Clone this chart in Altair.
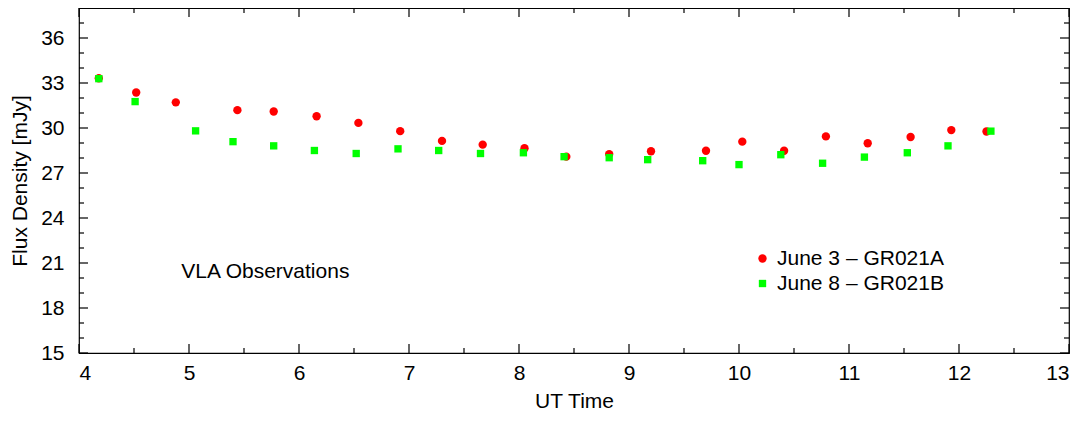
import altair as alt
import pandas as pd

# ---- data ----
series_names = ["June 3 – GR021A", "June 8 – GR021B"]

ut_a = [4.18, 4.52, 4.88, 5.44, 5.77, 6.16, 6.54, 6.92, 7.30, 7.67, 8.05,
        8.43, 8.82, 9.20, 9.70, 10.03, 10.41, 10.79, 11.17, 11.56, 11.93, 12.25]
flux_a = [33.32, 32.37, 31.71, 31.19, 31.10, 30.78, 30.34, 29.79, 29.14, 28.89, 28.65,
          28.09, 28.26, 28.45, 28.48, 29.09, 28.48, 29.44, 28.98, 29.40, 29.86, 29.77]

ut_b = [4.18, 4.51, 5.06, 5.40, 5.77, 6.14, 6.52, 6.90, 7.27, 7.65, 8.04,
        8.41, 8.82, 9.17, 9.67, 10.00, 10.38, 10.76, 11.14, 11.53, 11.90, 12.29]
flux_b = [33.29, 31.76, 29.81, 29.09, 28.81, 28.50, 28.30, 28.61, 28.50, 28.30, 28.35,
          28.09, 28.02, 27.89, 27.82, 27.56, 28.22, 27.65, 28.06, 28.35, 28.81, 29.79]

x_major = [4, 5, 6, 7, 8, 9, 10, 11, 12, 13]
x_minor = [4.5, 5.5, 6.5, 7.5, 8.5, 9.5, 10.5, 11.5, 12.5]
y_major = [15, 18, 21, 24, 27, 30, 33, 36]
y_minor = [16, 17, 19, 20, 22, 23, 25, 26, 28, 29, 31, 32, 34, 35, 37]

note_text = ["VLA Observations"]
note_x = [4.93]
note_y = [20.4]

# ---- tables ----
points = pd.DataFrame({
    "ut": ut_a + ut_b,
    "flux": flux_a + flux_b,
    "series": [series_names[0]] * len(ut_a) + [series_names[1]] * len(ut_b),
})

FONT = "Liberation Sans"
W, H = 990, 345
xs = alt.Scale(domain=[4, 13], nice=False, zero=False)
ys = alt.Scale(domain=[15, 38], nice=False, zero=False)
x_axis = alt.Axis(values=x_major, format="d", labelPadding=9, titlePadding=7)
y_axis = alt.Axis(values=y_major, format="d", labelPadding=15, titlePadding=10)
X_TITLE = "UT Time"
Y_TITLE = "Flux Density [mJy]"

legend = alt.Legend(
    title=None, orient="none", legendX=673, legendY=240,
    labelFont=FONT, labelFontSize=21, labelColor="#000", labelLimit=400,
    symbolSize=32, labelOffset=4, rowPadding=3, padding=0,
    symbolStrokeWidth=0,
)

pts = alt.Chart(points).mark_point(filled=True, opacity=1).encode(
    x=alt.X("ut:Q", scale=xs, title=X_TITLE, axis=x_axis),
    y=alt.Y("flux:Q", scale=ys, title=Y_TITLE, axis=y_axis),
    color=alt.Color("series:N",
                    scale=alt.Scale(domain=series_names, range=["#ff0000", "#00ff00"]),
                    legend=legend),
    shape=alt.Shape("series:N",
                    scale=alt.Scale(domain=series_names, range=["circle", "square"]),
                    legend=legend),
    size=alt.Size("series:N",
                  scale=alt.Scale(domain=series_names, range=[70, 54]),
                  legend=None),
)

note = alt.Chart(pd.DataFrame({"x": note_x, "y": note_y, "t": note_text})).mark_text(
    align="left", baseline="middle", font=FONT, fontSize=21, color="#000"
).encode(
    x=alt.X("x:Q", scale=xs, title=X_TITLE, axis=x_axis),
    y=alt.Y("y:Q", scale=ys, title=Y_TITLE, axis=y_axis),
    text="t:N",
)

def xticks(vals, y0, y1):
    return alt.Chart(pd.DataFrame({"v": vals})).mark_rule(
        color="#000", strokeWidth=1.2
    ).encode(x=alt.X("v:Q", scale=xs, title=X_TITLE, axis=x_axis),
             y=alt.value(y0), y2=alt.value(y1))

def yticks(vals, x0, x1):
    return alt.Chart(pd.DataFrame({"v": vals})).mark_rule(
        color="#000", strokeWidth=1.2
    ).encode(y=alt.Y("v:Q", scale=ys, title=Y_TITLE, axis=y_axis),
             x=alt.value(x0), x2=alt.value(x1))

tick_layers = [
    xticks(x_major, H, H - 9), xticks(x_major, 0, 9),
    xticks(x_minor, H, H - 5), xticks(x_minor, 0, 5),
    yticks(y_major, 0, 9), yticks(y_major, W, W - 9),
    yticks(y_minor, 0, 5), yticks(y_minor, W, W - 5),
]

chart = alt.layer(pts, note, *tick_layers).properties(
    width=W, height=H,
    autosize=alt.AutoSizeParams(type="none"),
    padding={"left": 71, "top": 0, "right": 10, "bottom": 60},
).configure_view(
    stroke="#000", strokeWidth=1.2
).configure_axis(
    domain=False, ticks=False, tickSize=0, grid=False,
    labelFont=FONT, labelFontSize=21, labelColor="#000",
    titleFont=FONT, titleFontSize=21, titleColor="#000", titleFontWeight="normal",
)

chart.save("out.html", embed_options={"renderer": "svg", "actions": False})
